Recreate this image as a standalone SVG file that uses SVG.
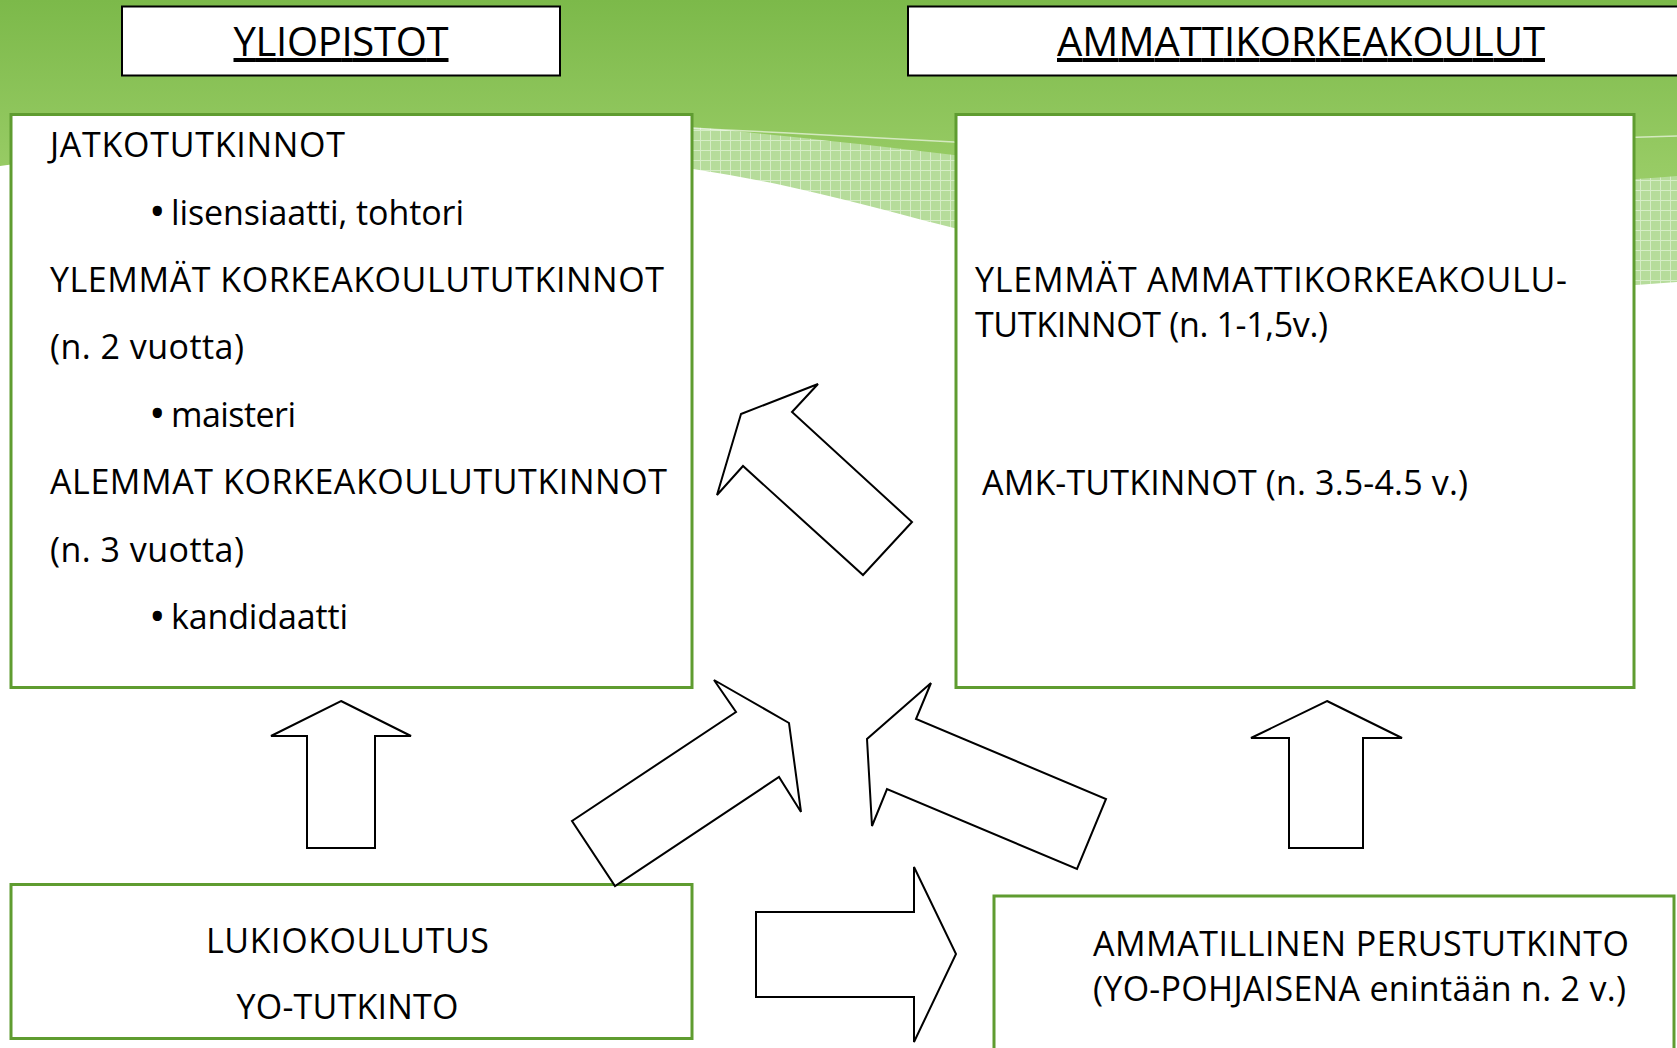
<svg xmlns="http://www.w3.org/2000/svg" width="1677" height="1048" viewBox="0 0 1677 1048">
<defs>
<linearGradient id="bgGreen" x1="0" y1="0" x2="0" y2="300" gradientUnits="userSpaceOnUse">
<stop offset="0" stop-color="#7cb94a"/>
<stop offset="0.55" stop-color="#97cb64"/>
<stop offset="1" stop-color="#a6d67c"/>
</linearGradient>
<pattern id="hatch" width="10" height="10" patternUnits="userSpaceOnUse">
<rect width="10" height="10" fill="#b6dc9b"/>
<path d="M0 0.5H10M0.5 0V10" stroke="#d6edc7" stroke-width="1"/>
</pattern>
<style>
.t{font-family:"Open Sans","Noto Sans","Liberation Sans",sans-serif;font-size:34px;fill:#000}
.b{font-family:"Open Sans","Noto Sans","Liberation Sans",sans-serif;font-size:44px;fill:#000}
.h{font-family:"Open Sans","Noto Sans","Liberation Sans",sans-serif;font-size:40px;fill:#000;text-decoration:underline}
.gbox{fill:#fff;stroke:#5f9c30;stroke-width:3}
.kbox{fill:#fff;stroke:#000;stroke-width:2}
.arr{fill:#fff;stroke:#000;stroke-width:2;stroke-linejoin:miter}
</style>
</defs>
<g id="background">
<rect x="0" y="0" width="1677" height="1048" fill="url(#bgGreen)"/>
<path d="M560,118 C620,121 660,124 693,127 C780,135 870,145 954,155 C1300,195 1500,190 1677,176 L1677,320 L560,320 Z" fill="url(#hatch)"/>
<path d="M600,124 C700,128 850,136 954,142 C1200,150 1450,143 1677,136" fill="none" stroke="#ffffff" stroke-opacity="0.6" stroke-width="1.5"/>
<path d="M0,166 C250,130 550,150 693,169 C800,185 880,210 954,228 C1200,285 1450,300 1677,282 L1677,1048 L0,1048 Z" fill="#fff"/>
</g>
<g id="header-yliopistot">
<rect class="kbox" x="122" y="6.5" width="438" height="69"/>
<text class="h" x="341" y="56" text-anchor="middle" textLength="215">YLIOPISTOT</text>
</g>
<g id="header-amk">
<rect class="kbox" x="908" y="6.5" width="780" height="69"/>
<text class="h" x="1301" y="56" text-anchor="middle" textLength="488">AMMATTIKORKEAKOULUT</text>
</g>
<g id="node-yliopistot">
<rect class="gbox" x="11" y="114.5" width="681" height="573"/>
<text class="t" x="50" y="157" textLength="295">JATKOTUTKINNOT</text>
<text class="b" x="149" y="227">•</text>
<text class="t" x="171" y="224.5" textLength="293">lisensiaatti, tohtori</text>
<text class="t" x="50" y="292" textLength="614">YLEMMÄT KORKEAKOULUTUTKINNOT</text>
<text class="t" x="50" y="359" textLength="194">(n. 2 vuotta)</text>
<text class="b" x="149" y="429">•</text>
<text class="t" x="171" y="426.5" textLength="125">maisteri</text>
<text class="t" x="50" y="494" textLength="617">ALEMMAT KORKEAKOULUTUTKINNOT</text>
<text class="t" x="50" y="561.5" textLength="194">(n. 3 vuotta)</text>
<text class="b" x="149" y="631.5">•</text>
<text class="t" x="171" y="629" textLength="177">kandidaatti</text>
</g>
<g id="node-amk">
<rect class="gbox" x="956" y="114.5" width="678" height="573"/>
<text class="t" x="975" y="292" textLength="592">YLEMMÄT AMMATTIKORKEAKOULU-</text>
<text class="t" x="975" y="337" textLength="353">TUTKINNOT (n. 1-1,5v.)</text>
<text class="t" x="982" y="495" textLength="486">AMK-TUTKINNOT (n. 3.5-4.5 v.)</text>
</g>
<g id="node-lukio">
<rect class="gbox" x="11" y="884.5" width="681" height="154"/>
<text class="t" x="347.5" y="953" text-anchor="middle" textLength="283">LUKIOKOULUTUS</text>
<text class="t" x="347.5" y="1019" text-anchor="middle" textLength="222">YO-TUTKINTO</text>
</g>
<g id="node-ammatillinen">
<rect class="gbox" x="994" y="896" width="680" height="170"/>
<text class="t" x="1093" y="956" textLength="536">AMMATILLINEN PERUSTUTKINTO</text>
<text class="t" x="1093" y="1001" textLength="533">(YO-POHJAISENA enintään n. 2 v.)</text>
</g>
<g id="connectors">
<polygon class="arr" points="341,701 411,736 375,736 375,848 307,848 307,736 271,736"/>
<polygon class="arr" points="1327,701 1402,738 1363,738 1363,848 1289,848 1289,738 1251,738"/>
<polygon class="arr" points="741,414 818,384 792,412 912,522 863,575 743,466 717,495"/>
<polygon class="arr" points="714,680 789,723 801,812 779,777 615,886 572,821 736,712"/>
<polygon class="arr" points="931,683 916,719 1106,799 1077,869 887,789 872,826 867,739"/>
<polygon class="arr" points="756,912 914,912 914,867 956,954 914,1042 914,997 756,997"/>
</g>
</svg>
